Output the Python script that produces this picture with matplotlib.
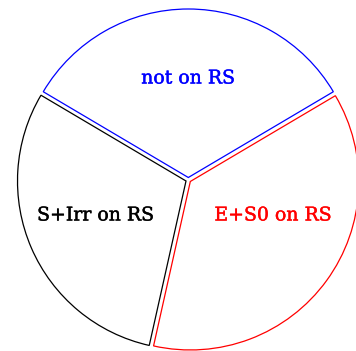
import matplotlib
matplotlib.use('Agg')
import matplotlib.pyplot as plt
import matplotlib.patheffects as pe

# pie shares (percent) and labels, counter-clockwise from the start angle
labels = ['not on RS', 'S+Irr on RS', 'E+S0 on RS']
shares = [33, 30, 37]
colors = ['blue', 'black', 'red']
explode = [2.5, 2.5, 2.5]  # pie offsets are in data units here

fig = plt.figure(figsize=(3.56, 3.51), dpi=100)
ax = fig.add_axes([0, 0, 1, 1])

wedges, texts = ax.pie(shares, labels=labels, explode=explode, startangle=30.6,
                       counterclock=True, center=(188.3, 171.0), radius=168.5,
                       frame=True,
                       textprops=dict(ha='center', va='baseline', fontsize=13.6,
                                      family='DejaVu Serif'))
for w, c in zip(wedges, colors):
    w.set_facecolor('none')
    w.set_edgecolor(c)
    w.set_linewidth(0.9)
    w.set_clip_on(False)

# label spots (pixel coords of the original image, y flipped)
label_xy = [(188, 351 - 83.5), (95.5, 351 - 220.5), (273, 351 - 220.5)]
for t, c, xy in zip(texts, colors, label_xy):
    t.set_color(c)
    t.set_position(xy)
    t.set_path_effects([pe.withStroke(linewidth=0.3, foreground=c)])

ax.set_xlim(0, 356)
ax.set_ylim(0, 351)
ax.set_aspect('auto')
ax.axis('off')

fig.savefig('out.png', dpi=100)
